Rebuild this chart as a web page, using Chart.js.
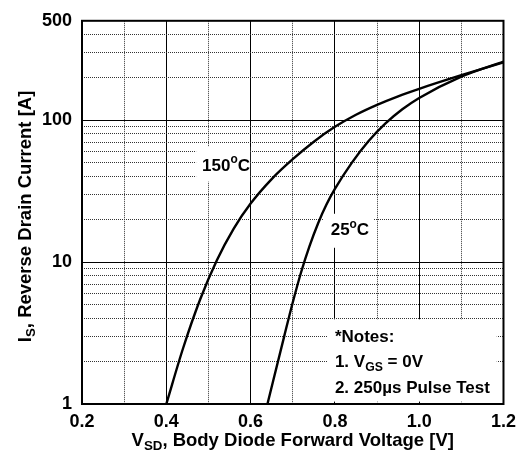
<!DOCTYPE html>
<html><head><meta charset="utf-8">
<script src="https://cdn.jsdelivr.net/npm/chart.js@4.4.0/dist/chart.umd.min.js"></script>
<style>html,body{margin:0;background:#fff}#wrap{width:523px;height:459px}</style>
</head><body><div id="wrap"><canvas id="c"></canvas></div>
<script>
// ---------- DATA ----------
const vHot  = [0.40, 0.44, 0.48, 0.52, 0.56, 0.60, 0.65, 0.70, 0.75, 0.80, 0.85, 0.90, 0.95, 1.00, 1.10, 1.20];
const iHot  = [1, 2.48, 5.42, 10.3, 17.2, 25.8, 38.4, 53, 70.4, 89.6, 109, 128, 147, 166, 207, 255];
const vCold = [0.64, 0.68, 0.70, 0.72, 0.74, 0.76, 0.78, 0.80, 0.84, 0.88, 0.92, 0.96, 1.00, 1.10, 1.20];
const iCold = [1, 3.02, 5.19, 8.51, 13.0, 18.7, 25.4, 32.7, 49.9, 71.1, 94.6, 119, 143, 202, 258];
const xMajor = [0.2, 0.4, 0.6, 0.8, 1.0, 1.2];
const xMinor = [0.3, 0.5, 0.7, 0.9, 1.1];
const yMajor = [1, 10, 100, 500];
const yMinor = [2,3,4,5,6,7,8,9,20,30,40,50,60,70,80,90,200,300,400];
const hotLabel = ['150', 'o', 'C'];
const coldLabel = ['25', 'o', 'C'];
const notes = ['*Notes:', '1. V|GS| = 0V', '2. 250\u00b5s Pulse Test'];

const FONT = '"Liberation Sans", Arial, sans-serif';
const bold = s => `bold ${s}px ${FONT}`;
const pts = (xs, ys) => xs.map((x,i)=>({x, y: ys[i]}));

// draw "a|sub|b" pieces; odd pieces are subscripts
function rich(ctx, str, x, y, size) {
  str.split('|').forEach((p,i)=>{
    const sub = i%2===1;
    ctx.font = bold(sub ? size*0.72 : size);
    ctx.fillText(p, x, sub ? y + size*0.3 : y);
    x += ctx.measureText(p).width;
  });
  return x;
}
function measureRich(ctx, str, size) {
  let w = 0;
  str.split('|').forEach((p,i)=>{ ctx.font = bold(i%2 ? size*0.72 : size); w += ctx.measureText(p).width; });
  return w;
}
function degLabel(ctx, parts, x, y, size) {
  ctx.font = bold(size); ctx.fillText(parts[0], x, y); x += ctx.measureText(parts[0]).width;
  ctx.font = bold(size*0.7); ctx.fillText(parts[1], x, y - size*0.38); x += ctx.measureText(parts[1]).width;
  ctx.font = bold(size); ctx.fillText(parts[2], x, y);
}

const deco = {
  id: 'deco',
  beforeDatasetsDraw(c) {
    const {ctx, scales:{x, y}} = c;
    ctx.save();
    ctx.fillStyle = '#fff';
    // white patches behind the labels
    let lx = x.getPixelForValue(0.485), ly = y.getPixelForValue(47);
    ctx.fillRect(lx-6, ly-20, 54, 35);
    lx = x.getPixelForValue(0.79); ly = y.getPixelForValue(16.6);
    ctx.fillRect(lx-7, ly-17, 50, 34);
    const l = x.getPixelForValue(0.783), r = x.getPixelForValue(1.184);
    const t = y.getPixelForValue(3.95), b = y.getPixelForValue(1.04);
    ctx.fillRect(l, t, r-l, b-t);
    ctx.restore();
  },
  afterDatasetsDraw(c) {
    const {ctx, chartArea:a, scales:{x, y}} = c;
    ctx.save();
    ctx.fillStyle = '#000'; ctx.textBaseline = 'middle'; ctx.textAlign = 'left';
    degLabel(ctx, hotLabel, x.getPixelForValue(0.485), y.getPixelForValue(47), 17);
    degLabel(ctx, coldLabel, x.getPixelForValue(0.79), y.getPixelForValue(16.6), 17);
    const nx = x.getPixelForValue(0.80);
    [2.95, 1.97, 1.295].forEach((v,i)=> rich(ctx, notes[i], nx, y.getPixelForValue(v), 17));
    // frame
    ctx.strokeStyle = '#000'; ctx.lineWidth = 2;
    ctx.strokeRect(a.left, a.top, a.right-a.left, a.bottom-a.top);
    // axis titles
    const xt = 'V|SD|, Body Diode Forward Voltage [V]';
    let w = measureRich(ctx, xt, 18.5);
    rich(ctx, xt, (a.left+a.right)/2 - w/2, 441, 18.5);
    const yt = 'I|S|, Reverse Drain Current [A]';
    w = measureRich(ctx, yt, 18.5);
    ctx.translate(26, (a.top+a.bottom)/2 + 4);
    ctx.rotate(-Math.PI/2);
    rich(ctx, yt, -w/2, 0, 18.5);
    ctx.restore();
  }
};

const line = (data) => ({data, borderColor:'#000', borderWidth:2.4, pointRadius:0, fill:false, cubicInterpolationMode:'monotone'});

new Chart(document.getElementById('c'), {
  type: 'line',
  data: { datasets: [ line(pts(vHot, iHot)), line(pts(vCold, iCold)) ] },
  options: {
    responsive: true, maintainAspectRatio: false, animation: false,
    layout: { padding: { left: 0, right: 17, top: 19, bottom: 0 } },
    plugins: { legend: {display:false}, tooltip: {enabled:false} },
    scales: {
      x: {
        type: 'linear', min: 0.2, max: 1.2,
        afterBuildTicks: s => { s.ticks = xMajor.map(v=>({value:v})); },
        afterFit: s => { s.height = 55; },
        ticks: { color:'#000', font:{family:FONT, weight:'bold', size:18}, padding: 7, callback: v => v.toFixed(1) },
        grid: { color:'#000', lineWidth:1, drawTicks:false },
        border: { display:false }
      },
      x2: {
        type: 'linear', min: 0.2, max: 1.2, position: 'bottom',
        afterBuildTicks: s => { s.ticks = xMinor.map(v=>({value:v})); },
        afterFit: s => { s.height = 0; },
        ticks: { display:false },
        grid: { color:'#333', lineWidth:1, drawTicks:false },
        border: { display:false, dash:[1,1] }
      },
      y: {
        type: 'logarithmic', min: 1, max: 500,
        afterBuildTicks: s => { s.ticks = yMajor.map(v=>({value:v})); },
        afterFit: s => { s.width = 82; },
        ticks: { color:'#000', font:{family:FONT, weight:'bold', size:18}, padding: 10, callback: v => String(v) },
        grid: { color:'#000', lineWidth:1, drawTicks:false },
        border: { display:false }
      },
      y2: {
        type: 'logarithmic', min: 1, max: 500, position: 'left',
        afterBuildTicks: s => { s.ticks = yMinor.map(v=>({value:v})); },
        afterFit: s => { s.width = 0; },
        ticks: { display:false },
        grid: { color:'#333', lineWidth:1, drawTicks:false },
        border: { display:false, dash:[1,1] }
      }
    }
  },
  plugins: [deco]
});
</script>
</body></html>
